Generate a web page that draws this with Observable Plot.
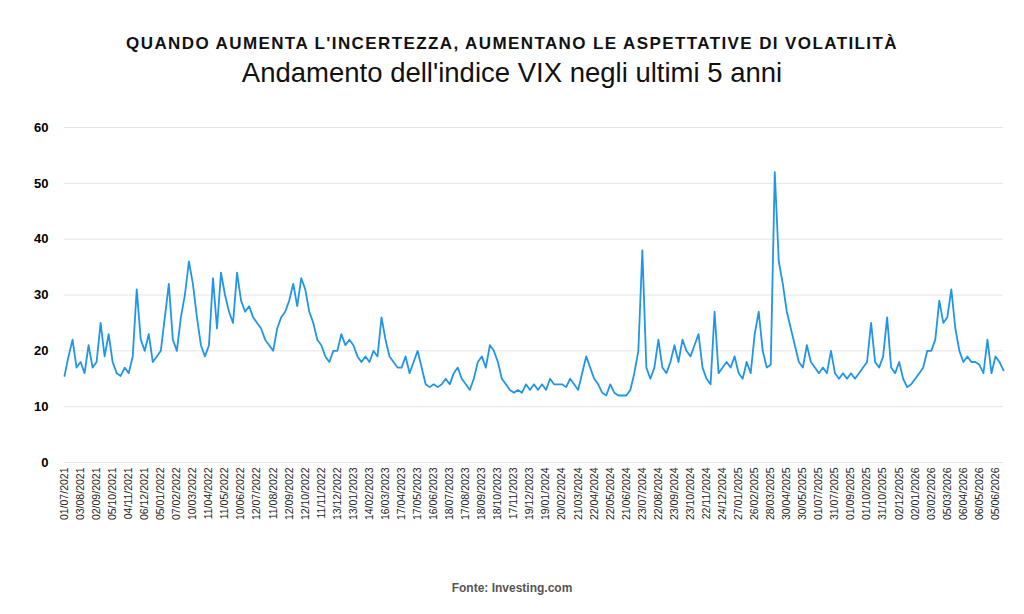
<!DOCTYPE html>
<html>
<head>
<meta charset="utf-8">
<script src="https://cdn.jsdelivr.net/npm/d3@7"></script>
<script src="https://cdn.jsdelivr.net/npm/@observablehq/plot@0.6"></script>
<style>
  body { margin: 0; background: #fff; font-family: "Liberation Sans", Arial, sans-serif; }
  #title { text-align: center; font-weight: bold; font-size: 17px; letter-spacing: 1.4px; margin-top: 34px; color: #111; height: 20px; }
  #subtitle { text-align: center; font-size: 27.5px; margin-top: 3px; color: #111; height: 32px; line-height: 32px; }
  #plot { height: 450px; padding-top: 11px; }
  #source { text-align: center; font-weight: bold; font-size: 12px; color: #555; margin-top: 31px; }
</style>
</head>
<body>
<div id="title">QUANDO AUMENTA L'INCERTEZZA, AUMENTANO LE ASPETTATIVE DI VOLATILITÀ</div>
<div id="subtitle">Andamento dell'indice VIX negli ultimi 5 anni</div>
<div id="plot"></div>
<div id="source">Fonte: Investing.com</div>
<script>
const dateLabels = ["01/07/2021","03/08/2021","02/09/2021","05/10/2021","04/11/2021","06/12/2021","05/01/2022","07/02/2022","10/03/2022","11/04/2022","11/05/2022","10/06/2022","12/07/2022","11/08/2022","12/09/2022","12/10/2022","11/11/2022","13/12/2022","13/01/2023","14/02/2023","16/03/2023","17/04/2023","17/05/2023","16/06/2023","18/07/2023","17/08/2023","18/09/2023","18/10/2023","17/11/2023","19/12/2023","19/01/2024","20/02/2024","21/03/2024","22/04/2024","22/05/2024","21/06/2024","23/07/2024","22/08/2024","23/09/2024","23/10/2024","22/11/2024","24/12/2024","27/01/2025","26/02/2025","28/03/2025","30/04/2025","30/05/2025","01/07/2025","31/07/2025","01/09/2025","01/10/2025","31/10/2025","02/12/2025","02/01/2026","03/02/2026","05/03/2026","06/04/2026","06/05/2026","05/06/2026"];

// weekly VIX readings, four per label interval
const vix = [
  15.5,19,22,17, 18,16,21,17, 18,25,19,23, 18,16,15.5,17, 16,19,31,22,
  20,23,18,19, 20,26,32,22, 20,26,30,36, 32,26,21,19, 21,33,24,34,
  30,27,25,34, 29,27,28,26, 25,24,22,21, 20,24,26,27, 29,32,28,33,
  31,27,25,22, 21,19,18,20, 20,23,21,22, 21,19,18,19, 18,20,19,26,
  22,19,18,17, 17,19,16,18, 20,17,14,13.5, 14,13.5,14,15, 14,16,17,15,
  14,13,15,18, 19,17,21,20, 18,15,14,13, 12.5,13,12.5,14, 13,14,13,14,
  13,15,14,14, 14,13.5,15,14, 13,16,19,17, 15,14,12.5,12, 14,12.5,12,12,
  12,13,16,20, 38,17,15,17, 22,17,16,18, 21,18,22,20, 19,21,23,17,
  15,14,27,16, 17,18,17,19, 16,15,18,16, 23,27,20,17, 17.5,52,36,32,
  27,24,21,18, 17,21,18,17, 16,17,16,20, 16,15,16,15, 16,15,16,17,
  18,25,18,17, 19,26,17,16, 18,15,13.5,14, 15,16,17,20, 20,22,29,25,
  26,31,24,20, 18,19,18,18, 17.5,16,22,16, 19,18,16.5
];

const data = vix.map((v, i) => ({ t: i / 4, v }));

const chart = Plot.plot({
  width: 1024,
  height: 450,
  marginTop: 27,
  marginLeft: 64,
  marginRight: 21,
  marginBottom: 88,
  style: { fontFamily: "Liberation Sans, Arial, sans-serif" },
  x: { domain: [0, (vix.length - 1) / 4], ticks: d3.range(dateLabels.length), tickFormat: i => dateLabels[i], tickRotate: -90, tickSize: 0, tickPadding: 5, label: null },
  y: { domain: [0, 60], ticks: [0, 10, 20, 30, 40, 50, 60], tickSize: 0, tickPadding: 16, label: null },
  marks: [
    Plot.gridY({ ticks: [0, 10, 20, 30, 40, 50, 60], stroke: "#e4e4e4", strokeOpacity: 1 }),
    Plot.line(data, { x: "t", y: "v", stroke: "#2196e8", strokeWidth: 1.8 })
  ]
});

chart.querySelectorAll("[aria-label='y-axis tick label'] text").forEach(t => { t.style.fontWeight = "bold"; t.style.fontSize = "13px"; });
chart.querySelectorAll("[aria-label='x-axis tick label'] text").forEach(t => { t.style.fontSize = "10.5px"; t.style.fill = "#222"; });
document.getElementById("plot").append(chart);
</script>
</body>
</html>
